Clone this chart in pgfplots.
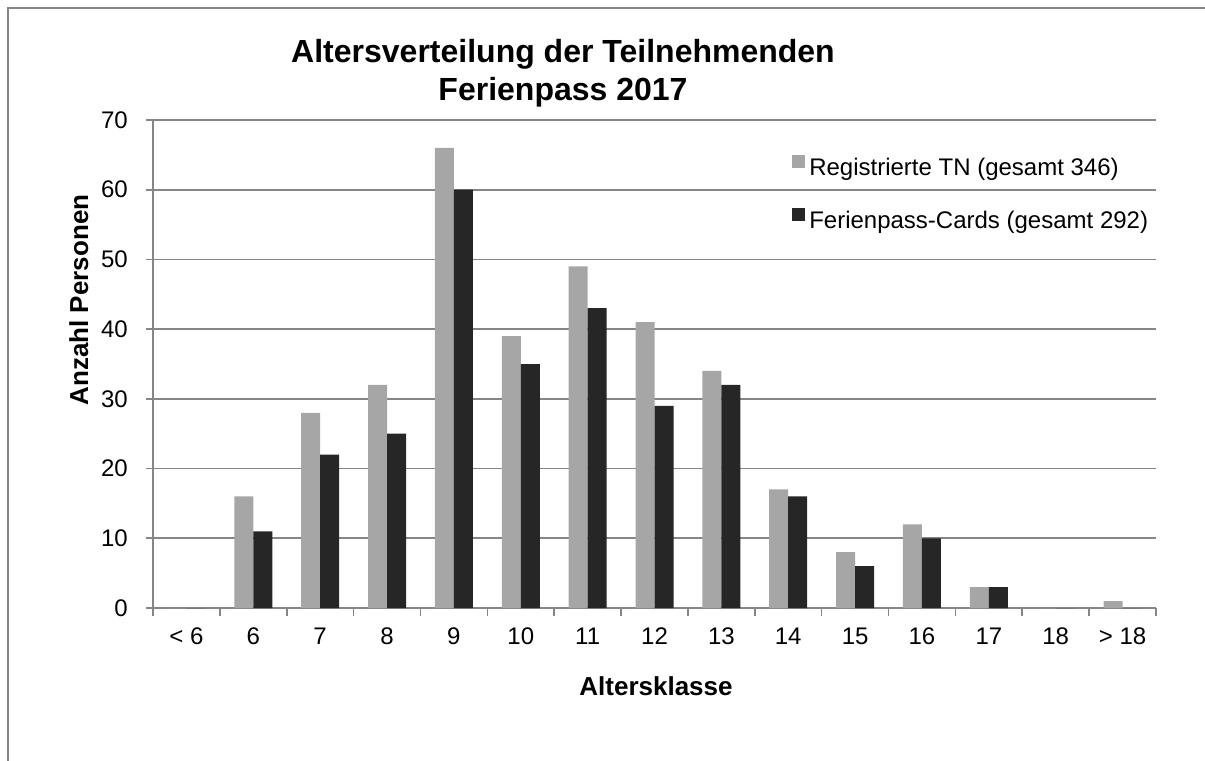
\documentclass[border=0pt]{standalone}
\usepackage{pgfplots}
\pgfplotsset{compat=1.18}
\usepackage{fontspec}
\setmainfont{Liberation Sans}
\definecolor{lightbar}{HTML}{A6A6A6}
\definecolor{darkbar}{HTML}{262626}
\definecolor{gridgray}{HTML}{868686}
\pgfplotstableread{
x reg card
0 0 0
1 16 11
2 28 22
3 32 25
4 66 60
5 39 35
6 49 43
7 41 29
8 34 32
9 17 16
10 8 6
11 12 10
12 3 3
13 0 0
14 1 0
}\agedata
\begin{document}
\begin{tikzpicture}
\useasboundingbox (0pt,0pt) rectangle (903.75pt,-570pt);
\draw[gridgray, line width=1.5pt] (6pt,-575pt) -- (6pt,-6pt) -- (910pt,-6pt);
\begin{axis}[
  at={(114.75pt,-456pt)}, anchor=south west,
  scale only axis, width=752.25pt, height=366pt,
  xmin=-0.5, xmax=14.5, ymin=0, ymax=70,
  ybar=0pt, bar width=14.25pt,
  axis x line*=bottom, axis y line*=left,
  axis line style={gridgray, line width=1.2pt, -},
  xtick={0,...,14},
  xticklabels={{< 6},6,7,8,9,10,11,12,13,14,15,16,17,18,{> 18}},
  minor xtick={-0.5,0.5,...,14.5},
  major x tick style={draw=none},
  minor x tick style={gridgray, line width=1.2pt},
  ytick={0,10,...,70},
  ytick style={gridgray, line width=1.2pt},
  tick align=outside,
  major tick length=5.25pt, minor tick length=6pt,
  ymajorgrids, grid style={gridgray, line width=1.2pt},
  /pgf/number format/assume math mode=true,
  tick label style={font=\fontsize{18}{21}\selectfont, inner sep=0pt},
  yticklabel style={anchor=east, xshift=-13.5pt},
  xticklabel style={anchor=north, text height=12.75pt, yshift=-9pt},
  legend style={at={(0.6371,0.9283)}, anchor=north west, draw=none, fill=none,
    inner sep=0pt, row sep=21pt,
    nodes={inner sep=0pt, text height=12.75pt, text depth=3.75pt, font=\fontsize{18}{21}\selectfont},
    /tikz/every odd column/.append style={column sep=3pt}},
  legend cell align=left,
  legend image code/.code={\fill[#1] (0pt,0.75pt) rectangle (9.75pt,10.5pt);},
]
\addplot[fill=lightbar, draw=none] table[x=x, y=reg] {\agedata};
\addplot[fill=darkbar, draw=none] table[x=x, y=card] {\agedata};
\legend{Registrierte TN (gesamt 346), Ferienpass-Cards (gesamt 292)}
\end{axis}
\node[anchor=base, font=\fontsize{24}{28}\selectfont\bfseries] at (422.25pt,-46.5pt) {Altersverteilung der Teilnehmenden};
\node[anchor=base, font=\fontsize{24}{28}\selectfont\bfseries] at (422.25pt,-75pt) {Ferienpass 2017};
\node[anchor=base, font=\fontsize{19.5}{23}\selectfont\bfseries] at (492pt,-521.25pt) {Altersklasse};
\node[anchor=base, rotate=90, font=\fontsize{19.5}{23}\selectfont\bfseries] at (66pt,-225pt) {Anzahl Personen};
\end{tikzpicture}
\end{document}
